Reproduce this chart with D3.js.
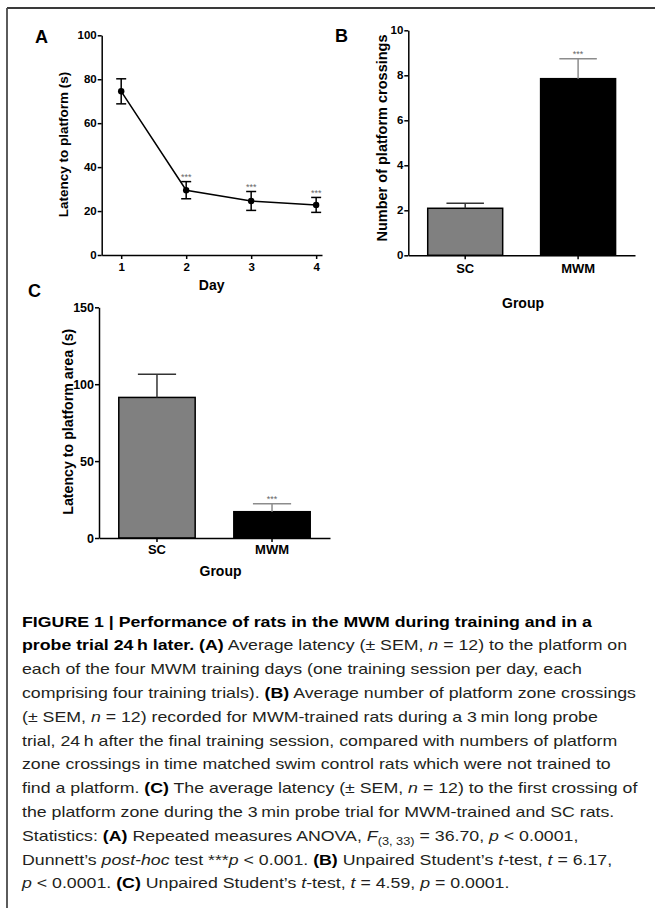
<!DOCTYPE html>
<html><head><meta charset="utf-8">
<script src="https://cdn.jsdelivr.net/npm/d3@7"></script>
<style>html,body{margin:0;padding:0;background:#fff;} svg{display:block;}</style>
</head><body>
<svg id="fig" width="655" height="918"></svg>
<script>
// ---------- DATA ----------
const days = [1, 2, 3, 4];
const dayLatencyMean = [74.5, 29.5, 24.6, 22.8];
const dayLatencySEM = [5.7, 3.9, 4.3, 3.4];
const daySig = ["", "***", "***", "***"];
const dayTicksY = [0, 20, 40, 60, 80, 100];

const groups = ["SC", "MWM"];
const crossingsMean = [2.09, 7.85];
const crossingsSEM = [0.22, 0.89];
const crossingsSig = ["", "***"];
const crossingsTicksY = [0, 2, 4, 6, 8, 10];

const areaLatencyMean = [91.4, 17.1];
const areaLatencySEM = [15.0, 5.2];
const areaLatencySig = ["", "***"];
const areaLatencyTicksY = [0, 50, 100, 150];

const captionLines = [
  [["FIGURE 1 | Performance of rats in the MWM during training and in a", "b"]],
  [["probe trial 24\u2009h later. (A)", "b"], [" Average latency (\u00b1 SEM, ", ""], ["n", "i"], [" = 12) to the platform on", ""]],
  [["each of the four MWM training days (one training session per day, each", ""]],
  [["comprising four training trials). ", ""], ["(B)", "b"], [" Average number of platform zone crossings", ""]],
  [["(\u00b1 SEM, ", ""], ["n", "i"], [" = 12) recorded for MWM-trained rats during a 3\u2009min long probe", ""]],
  [["trial, 24\u2009h after the final training session, compared with numbers of platform", ""]],
  [["zone crossings in time matched swim control rats which were not trained to", ""]],
  [["find a platform. ", ""], ["(C)", "b"], [" The average latency (\u00b1 SEM, ", ""], ["n", "i"], [" = 12) to the first crossing of", ""]],
  [["the platform zone during the 3\u2009min probe trial for MWM-trained and SC rats.", ""]],
  [["Statistics: ", ""], ["(A)", "b"], [" Repeated measures ANOVA, ", ""], ["F", "i"], ["(3, 33)", "sub"], [" = 36.70, ", ""], ["p", "i"], [" < 0.0001,", ""]],
  [["Dunnett\u2019s ", ""], ["post-hoc", "i"], [" test ***", ""], ["p", "i"], [" < 0.001. ", ""], ["(B)", "b"], [" Unpaired Student\u2019s ", ""], ["t", "i"], ["-test, ", ""], ["t", "i"], [" = 6.17,", ""]],
  [["p", "i"], [" < 0.0001. ", ""], ["(C)", "b"], [" Unpaired Student\u2019s ", ""], ["t", "i"], ["-test, ", ""], ["t", "i"], [" = 4.59, ", ""], ["p", "i"], [" = 0.0001.", ""]]
];

// ---------- STYLE ----------
const FONT = "'Liberation Sans', Arial, Helvetica, sans-serif";
const groupFills = ["#808080", "#000000"];
const groupErrColors = ["#333333", "#8c8c8c"];

const svg = d3.select("#fig");

// frame
svg.append("line").attr("x1", 7).attr("y1", 8).attr("x2", 655).attr("y2", 8)
  .attr("stroke", "#3a3a3a").attr("stroke-width", 1.8);
svg.append("line").attr("x1", 7).attr("y1", 8).attr("x2", 7).attr("y2", 908)
  .attr("stroke", "#4a4a4a").attr("stroke-width", 1.8);

function styleAxis(g, fs) {
  g.attr("font-family", FONT).attr("font-size", fs).attr("font-weight", "bold");
  g.selectAll("path.domain").attr("stroke", "#000").attr("stroke-width", 1.5);
  g.selectAll(".tick line").attr("stroke", "#000").attr("stroke-width", 1.5);
  g.selectAll(".tick text").attr("fill", "#000");
}

function label(txt, x, y, fs, opts = {}) {
  const t = svg.append("text").text(txt)
    .attr("font-family", FONT).attr("font-weight", "bold")
    .attr("font-size", fs).attr("fill", "#000");
  if (opts.rotate) {
    t.attr("transform", `translate(${x},${y}) rotate(-90)`).attr("text-anchor", "middle").attr("dy", "0.35em");
  } else {
    t.attr("x", x).attr("y", y).attr("text-anchor", opts.anchor || "middle");
  }
  return t;
}

function sigText(txt, x, y) {
  svg.append("text").text(txt).attr("x", x).attr("y", y)
    .attr("text-anchor", "middle").attr("font-family", FONT)
    .attr("font-size", 9).attr("fill", "#666");
}

// ---------- PANEL A ----------
const xA = d3.scaleLinear().domain([0.7, 4.09]).range([101.7, 322]);
const yA = d3.scaleLinear().domain([0, 100]).range([255, 35.3]);

svg.append("path").datum(dayLatencyMean)
  .attr("d", d3.line().x((d, i) => xA(days[i])).y(d => yA(d)))
  .attr("fill", "none").attr("stroke", "#000").attr("stroke-width", 1.5);

days.forEach((d, i) => {
  const cx = xA(d), m = dayLatencyMean[i], s = dayLatencySEM[i];
  const g = svg.append("g").attr("stroke", "#000").attr("stroke-width", 1.5);
  g.append("line").attr("x1", cx).attr("x2", cx).attr("y1", yA(m - s)).attr("y2", yA(m + s));
  g.append("line").attr("x1", cx - 5).attr("x2", cx + 5).attr("y1", yA(m - s)).attr("y2", yA(m - s));
  g.append("line").attr("x1", cx - 5).attr("x2", cx + 5).attr("y1", yA(m + s)).attr("y2", yA(m + s));
  svg.append("circle").attr("cx", cx).attr("cy", yA(m)).attr("r", 3.2).attr("fill", "#000");
  if (daySig[i]) sigText(daySig[i], cx, yA(m + s) - 1.3);
});

svg.append("g").attr("transform", `translate(0,${yA(0)})`)
  .call(d3.axisBottom(xA).tickValues(days).tickFormat(d3.format("d")).tickSize(4).tickSizeOuter(0).tickPadding(4))
  .call(g => styleAxis(g, 11.5));
svg.append("g").attr("transform", `translate(${xA.range()[0]},0)`)
  .call(d3.axisLeft(yA).tickValues(dayTicksY).tickSize(4).tickSizeOuter(0).tickPadding(1))
  .call(g => styleAxis(g, 11.5));

label("A", 35, 43, 18, { anchor: "start" });
label("Latency to platform (s)", 63, 144.5, 13.5, { rotate: true });
label("Day", 211.7, 290, 14);

// ---------- BAR PANELS ----------
function barPanel(cfg) {
  const x = d3.scaleBand().domain(groups).range(cfg.xr).paddingInner(0.336).paddingOuter(0.172);
  const y = d3.scaleLinear().domain(cfg.yd).range(cfg.yr);
  const bw = x.bandwidth();
  groups.forEach((gname, i) => {
    const m = cfg.mean[i], s = cfg.sem[i];
    svg.append("rect").attr("x", x(gname)).attr("width", bw)
      .attr("y", y(m)).attr("height", y(0) - y(m))
      .attr("fill", groupFills[i]).attr("stroke", "#000").attr("stroke-width", 1.5);
    const cx = x(gname) + bw / 2;
    const eg = svg.append("g").attr("stroke", groupErrColors[i]).attr("stroke-width", 1.5);
    eg.append("line").attr("x1", cx).attr("x2", cx).attr("y1", y(m)).attr("y2", y(m + s));
    eg.append("line").attr("x1", cx - bw * 0.25).attr("x2", cx + bw * 0.25).attr("y1", y(m + s)).attr("y2", y(m + s));
    if (cfg.sig[i]) sigText(cfg.sig[i], cx, y(m + s) - 1.3);
  });
  svg.append("g").attr("transform", `translate(0,${y(0)})`)
    .call(d3.axisBottom(x).tickSize(4).tickSizeOuter(0).tickPadding(cfg.xPad))
    .call(g => styleAxis(g, 13));
  svg.append("g").attr("transform", `translate(${cfg.xr[0]},0)`)
    .call(d3.axisLeft(y).tickValues(cfg.ticks).tickSize(4).tickSizeOuter(0).tickPadding(1))
    .call(g => styleAxis(g, cfg.tickFs));
}

barPanel({ xr: [408.3, 635], yd: [0, 10], yr: [255.3, 30.3], mean: crossingsMean, sem: crossingsSEM,
  sig: crossingsSig, ticks: crossingsTicksY, tickFs: 11.5, xPad: 4 });
label("B", 335, 42, 18, { anchor: "start" });
label("Number of platform crossings", 381.7, 138, 14.5, { rotate: true });
label("Group", 523, 307.5, 14);

barPanel({ xr: [99, 330], yd: [0, 150], yr: [538, 307.3], mean: areaLatencyMean, sem: areaLatencySEM,
  sig: areaLatencySig, ticks: areaLatencyTicksY, tickFs: 12.5, xPad: 3 });
label("C", 28, 297, 18, { anchor: "start" });
label("Latency to platform area (s)", 68.5, 421.7, 14.2, { rotate: true });
label("Group", 220.5, 576, 14);

// ---------- CAPTION ----------
const capX = 22, capY0 = 626.5, capDy = 23.8, capFs = 15;
const capNodes = [];
captionLines.forEach((segs, li) => {
  const t = svg.append("text").attr("x", capX).attr("y", capY0 + li * capDy)
    .attr("font-family", FONT).attr("font-size", capFs).attr("fill", "#231f20");
  let shifted = false;
  segs.forEach(([txt, st]) => {
    const sp = t.append("tspan").text(txt);
    if (st === "b") sp.attr("font-weight", "bold").attr("fill", "#000");
    if (st === "i") sp.attr("font-style", "italic");
    if (st === "sub") { sp.attr("font-size", capFs * 0.72).attr("dy", 4); shifted = true; }
    else if (shifted) { sp.attr("dy", -4); shifted = false; }
  });
  capNodes.push(t);
});
// condensed caption face: compress all lines by one common factor
const refW = capNodes[3].node().getComputedTextLength();
const k = (636 - capX) / refW;
capNodes.forEach(t => {
  const w = t.node().getComputedTextLength();
  t.attr("textLength", w * k).attr("lengthAdjust", "spacingAndGlyphs");
});
</script>
</body></html>
